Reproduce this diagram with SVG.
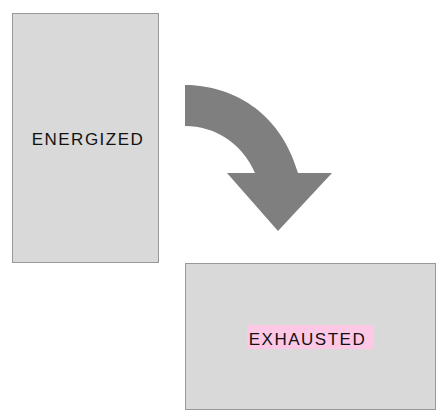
<svg xmlns="http://www.w3.org/2000/svg" width="447" height="420" viewBox="0 0 447 420">
<style>
.box{fill:#d9d9d9;stroke:#989898;stroke-width:1}
.lbl{font-family:"Liberation Sans","DejaVu Sans",sans-serif;font-size:17px;fill:#111;text-anchor:middle;letter-spacing:1.5px}
.arrow{fill:#7f7f7f}
</style>
<rect width="447" height="420" fill="#ffffff"/>
<g id="energized">
<rect class="box" x="12.5" y="13.5" width="146" height="249"/>
<text class="lbl" x="88" y="145">ENERGIZED</text>
</g>
<g id="exhausted">
<rect class="box" x="185.5" y="263.5" width="250" height="146"/>
<rect x="247" y="325" width="127" height="24" fill="#fdc8e5"/>
<text class="lbl" x="307.5" y="345">EXHAUSTED</text>
</g>
<g id="connectors">
<path class="arrow" d="M185,85 C230,85 280,110 298,173 L332,173 L278,231 L227,173 L255,173 C242,143 215,126 185,126 Z"/>
</g>
</svg>
